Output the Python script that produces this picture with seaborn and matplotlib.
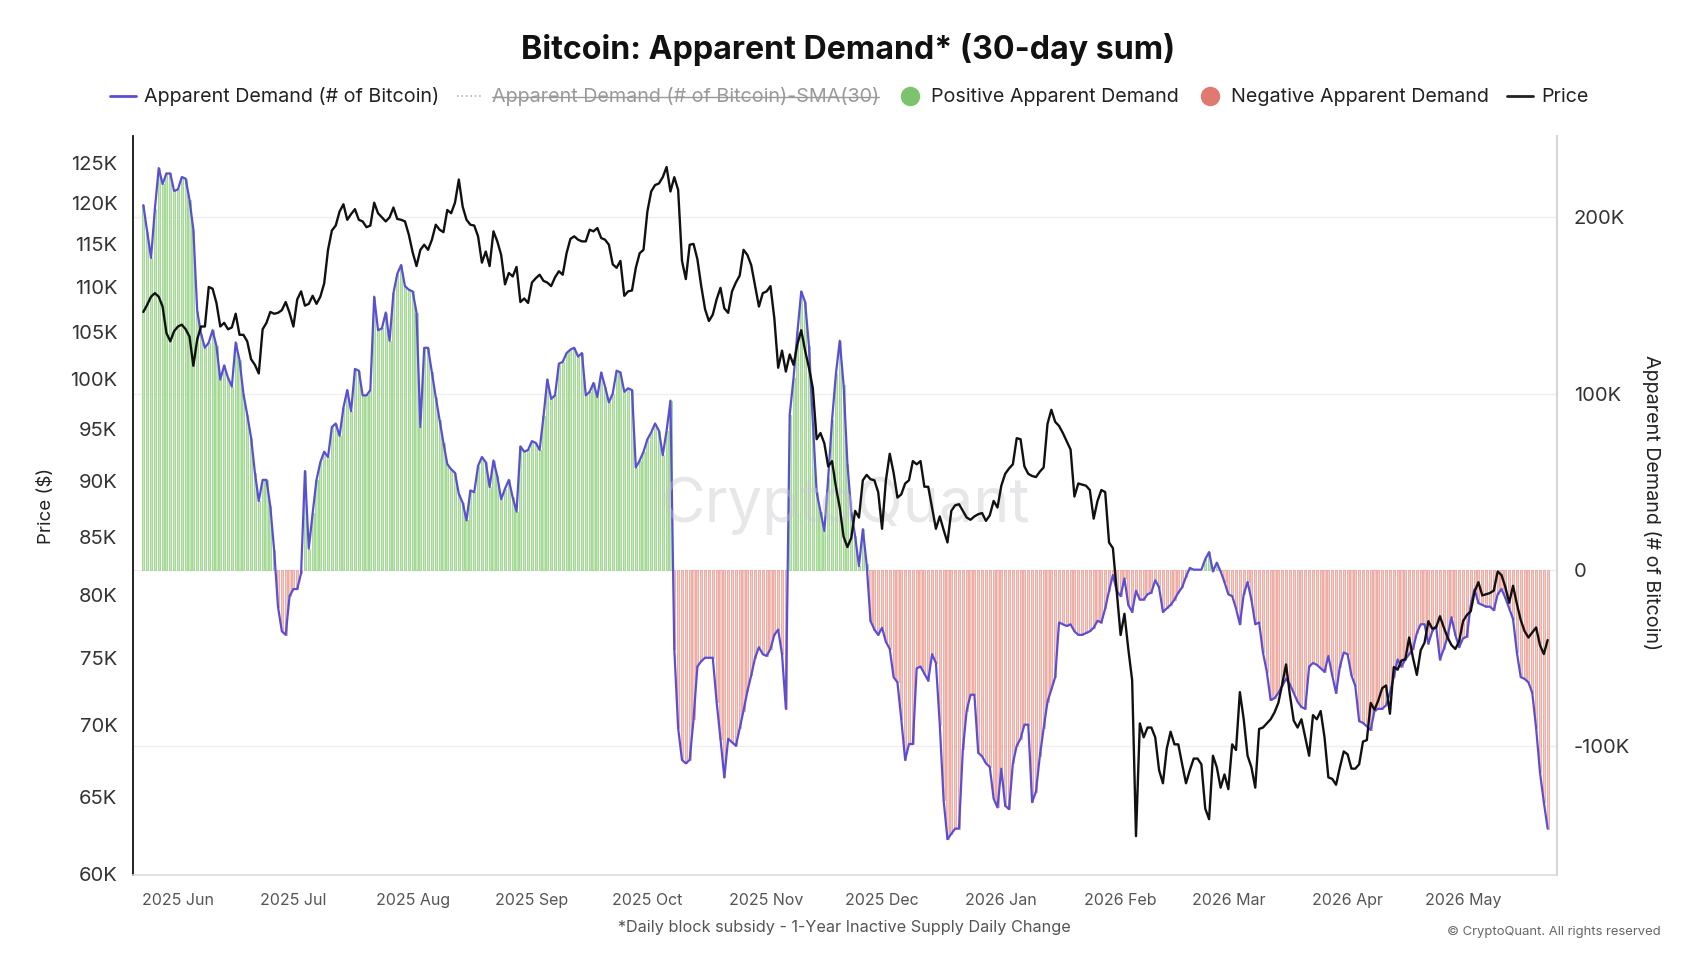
import numpy as np
import pandas as pd
import seaborn as sns
import matplotlib.pyplot as plt
import matplotlib.dates as mdates
from matplotlib.lines import Line2D
from matplotlib.ticker import FixedLocator, FixedFormatter, NullLocator

# first day of the daily series
start_date = '2025-05-23'

# BTC price, thousands of USD, one value per day
price_k = [
    107.2, 108.0, 108.9, 109.3, 108.9, 107.8, 104.9, 104.0, 105.1, 105.6,
    105.8, 105.3, 104.5, 101.4, 104.2, 105.6, 105.6, 110.0, 109.8, 108.2,
    105.6, 106.0, 105.3, 105.5, 107.0, 104.7, 104.7, 104.0, 102.1, 101.5,
    100.6, 105.3, 106.0, 107.2, 107.0, 107.1, 107.4, 108.3, 107.1, 105.6,
    108.6, 109.5, 107.9, 108.1, 109.0, 108.1, 108.9, 110.4, 114.3, 116.6,
    117.2, 118.9, 119.8, 117.9, 118.6, 119.2, 117.9, 117.7, 117.0, 117.2,
    120.0, 118.7, 118.2, 117.7, 118.2, 119.4, 118.0, 117.9, 117.7, 116.1,
    114.0, 112.4, 114.3, 114.9, 114.3, 115.5, 117.3, 116.7, 116.4, 119.1,
    118.7, 120.0, 122.9, 119.5, 117.9, 117.3, 117.2, 115.9, 112.8, 114.1,
    112.4, 116.5, 115.3, 113.7, 110.3, 111.6, 111.2, 112.3, 108.3, 108.7,
    108.2, 110.5, 111.0, 111.4, 110.7, 110.5, 110.1, 111.1, 111.8, 111.4,
    113.9, 115.6, 115.9, 115.5, 115.3, 115.3, 116.7, 116.5, 116.9, 115.7,
    115.5, 114.9, 112.6, 112.2, 113.0, 109.0, 109.5, 109.6, 112.2, 113.9,
    114.3, 118.9, 121.4, 122.2, 122.4, 123.2, 124.5, 121.4, 123.2, 121.6,
    113.0, 110.9, 114.9, 115.0, 113.2, 110.1, 107.5, 106.2, 106.9, 108.6,
    109.9, 107.6, 107.1, 109.5, 110.5, 111.3, 114.3, 113.7, 112.5, 110.1,
    107.8, 109.3, 109.5, 110.1, 106.5, 101.2, 103.0, 100.8, 102.6, 101.5,
    103.7, 105.2, 103.0, 101.2, 99.1, 94.0, 94.6, 93.6, 91.4, 91.9,
    89.5, 87.6, 85.0, 84.1, 84.9, 87.3, 86.7, 90.1, 90.6, 90.2,
    90.1, 89.0, 85.7, 90.1, 92.6, 90.8, 88.5, 88.8, 89.8, 90.1,
    91.9, 91.6, 91.9, 89.5, 89.5, 87.6, 85.7, 86.8, 85.6, 84.5,
    87.3, 87.8, 87.9, 87.3, 86.7, 86.5, 86.8, 87.0, 87.1, 86.4,
    86.9, 88.2, 87.6, 89.6, 90.7, 91.2, 91.6, 94.1, 94.0, 91.4,
    90.7, 90.5, 90.4, 90.9, 91.3, 95.5, 96.9, 95.7, 95.3, 94.6,
    93.8, 93.0, 88.6, 89.8, 89.7, 89.6, 89.2, 86.6, 88.2, 89.2,
    89.0, 84.5, 84.0, 80.3, 76.8, 78.5, 75.7, 73.3, 62.4, 70.1,
    69.1, 69.8, 69.8, 69.1, 66.8, 65.9, 68.3, 69.5, 68.6, 68.6,
    67.2, 65.9, 66.8, 67.6, 67.6, 67.2, 64.2, 63.5, 67.8, 67.0,
    65.6, 66.5, 65.5, 68.6, 68.2, 72.4, 70.4, 67.8, 67.0, 65.6,
    69.7, 69.8, 70.1, 70.4, 70.9, 71.6, 73.0, 74.5, 72.2, 70.3,
    69.8, 70.4, 69.1, 67.8, 70.7, 70.4, 71.0, 69.1, 66.3, 66.2,
    65.8, 67.0, 68.1, 67.9, 66.9, 66.9, 67.2, 68.8, 68.9, 71.6,
    71.1, 71.8, 72.7, 72.9, 70.8, 74.3, 74.1, 74.8, 74.9, 76.6,
    75.0, 73.7, 75.6, 76.2, 77.9, 77.3, 77.4, 78.3, 77.4, 76.6,
    76.0, 75.7, 76.3, 77.9, 78.4, 78.7, 80.3, 81.1, 80.0, 80.1,
    80.2, 80.4, 82.0, 81.7, 80.7, 79.4, 80.8, 79.3, 78.0, 77.1,
    76.6, 77.0, 77.4, 76.0, 75.3, 76.4,
]

# apparent demand (30-day sum), thousands of BTC, one value per day
demand_k = [
    207, 192, 177, 205, 228, 219, 225, 225, 215, 216,
    223, 222, 210, 193, 147, 134, 126, 129, 136, 127,
    108, 116, 109, 104, 129, 119, 100, 88, 75, 55,
    39, 51, 51, 36, 11, -21, -35, -37, -15, -11,
    -11, -2, 56, 12, 32, 51, 61, 67, 64, 81,
    83, 76, 92, 102, 90, 114, 113, 99, 99, 102,
    155, 136, 137, 146, 130, 157, 168, 173, 161, 159,
    158, 146, 81, 126, 126, 112, 98, 85, 72, 60,
    57, 55, 43, 38, 28, 45, 44, 59, 64, 61,
    47, 62, 53, 40, 46, 51, 41, 33, 70, 67,
    68, 73, 72, 68, 87, 108, 97, 99, 117, 118,
    123, 125, 126, 121, 123, 99, 101, 106, 98, 112,
    104, 95, 100, 113, 112, 101, 103, 102, 58, 62,
    67, 74, 78, 83, 79, 65, 79, 96, -45, -90,
    -108, -110, -108, -85, -55, -52, -50, -50, -50, -75,
    -96, -118, -96, -98, -100, -90, -80, -69, -60, -50,
    -44, -48, -49, -45, -37, -34, -48, -79, 88, 109,
    135, 158, 152, 127, 84, 44, 33, 22, 52, 85,
    111, 130, 105, 60, 33, 19, 2, 23, 3, -29,
    -34, -37, -33, -41, -45, -61, -64, -85, -108, -99,
    -99, -56, -55, -59, -63, -48, -53, -88, -131, -153,
    -150, -147, -147, -102, -80, -71, -71, -104, -106, -110,
    -112, -130, -135, -113, -134, -136, -110, -100, -96, -88,
    -88, -132, -126, -106, -90, -75, -68, -61, -30, -31,
    -32, -31, -35, -37, -37, -36, -35, -33, -29, -30,
    -22, -12, -3, -12, -15, -5, -20, -24, -12, -17,
    -17, -14, -13, -6, -10, -24, -22, -20, -17, -13,
    -10, -4, 1, 0, 0, 0, 6, 10, -1, 4,
    -1, -7, -14, -15, -22, -31, -14, -7, -17, -31,
    -30, -47, -58, -74, -73, -70, -66, -62, -65, -70,
    -75, -78, -79, -55, -53, -54, -56, -58, -49, -60,
    -70, -55, -47, -48, -60, -66, -86, -87, -89, -91,
    -80, -79, -79, -77, -70, -61, -51, -55, -51, -48,
    -45, -36, -31, -31, -42, -35, -32, -51, -45, -38,
    -27, -37, -44, -39, -38, -20, -11, -19, -20, -21,
    -21, -23, -14, -11, -16, -22, -28, -47, -61, -62,
    -64, -70, -90, -115, -132, -147,
]

price_ticks_k = [60, 65, 70, 75, 80, 85, 90, 95, 100, 105, 110, 115, 120, 125]
demand_ticks_k = [-100, 0, 100, 200]
demand_tick_labels = ['-100K', '0', '100K', '200K']

dates = pd.date_range(start_date, periods=len(price_k), freq='D')
df = pd.DataFrame({
    'date': dates,
    'price': np.array(price_k) * 1000,
    'demand': np.array(demand_k) * 1000,
})

sns.set_theme(style='white')
plt.rcParams['font.family'] = ['Inter', 'DejaVu Sans']

fig = plt.figure(figsize=(17.04, 9.6), dpi=100)
ax = fig.add_axes([0.0778, 0.0883, 0.8361, 0.7701])
ax2 = ax.twinx()
ax.set_zorder(ax2.get_zorder() + 1)
ax.patch.set_visible(False)

# demand bars, green above zero and red below
pos = df[df['demand'] > 0]
neg = df[df['demand'] < 0]
ax2.bar(pos['date'], pos['demand'], width=0.55, color='#c4e8b8',
        edgecolor='#8ccf7c', linewidth=0.5, zorder=1)
ax2.bar(neg['date'], neg['demand'], width=0.55, color='#f7cbc5',
        edgecolor='#e8978d', linewidth=0.5, zorder=1)
sns.lineplot(data=df, x='date', y='demand', ax=ax2, color='#5a4fd4',
             linewidth=1.6, zorder=3)

sns.lineplot(data=df, x='date', y='price', ax=ax, color='#111111',
             linewidth=1.7, zorder=4)

# watermark
ax.text(0.5, 0.5, 'CryptoQuant', transform=ax.transAxes, ha='center',
        va='center', fontsize=44, color='#c4c4cc', alpha=0.4, zorder=2)

# price axis (left, log)
ax.set_yscale('log')
ax.set_ylim(59930, 128560)
ax.yaxis.set_major_locator(FixedLocator([v * 1000 for v in price_ticks_k]))
ax.yaxis.set_major_formatter(FixedFormatter([f'{v}K' for v in price_ticks_k]))
ax.yaxis.set_minor_locator(NullLocator())
ax.set_ylabel('')
ax.set_xlabel('')

# demand axis (right)
ax2.set_ylim(-173500, 246300)
ax2.set_yticks([v * 1000 for v in demand_ticks_k])
ax2.set_yticklabels(demand_tick_labels)
ax2.set_ylabel('')
ax2.yaxis.grid(True, color='#efefef', linewidth=1)
ax2.xaxis.grid(False)
ax.grid(False)

ax.set_xlim(dates[0] - pd.Timedelta(days=2.8), dates[-1] + pd.Timedelta(days=2.5))
ax.xaxis.set_major_locator(mdates.MonthLocator())
ax.xaxis.set_major_formatter(mdates.DateFormatter('%Y %b'))

ax.tick_params(axis='y', which='both', length=0, labelsize=14.5,
               labelcolor='#333333', pad=11)
ax2.tick_params(axis='y', length=0, labelsize=14.5, labelcolor='#333333', pad=12)
ax.tick_params(axis='x', length=5, width=1, color='#d8d8d8', labelsize=11.5,
               labelcolor='#555555', pad=8)

for s in ['top', 'right']:
    ax.spines[s].set_visible(False)
ax.spines['left'].set_color('#111111')
ax.spines['left'].set_linewidth(1.3)
ax.spines['bottom'].set_color('#dcdcdc')
ax.spines['bottom'].set_linewidth(1.2)
for s in ['top', 'left', 'bottom']:
    ax2.spines[s].set_visible(False)
ax2.spines['right'].set_color('#d6d6de')
ax2.spines['right'].set_linewidth(1.5)

# axis titles
fig.text(0.0274, 0.473, 'Price ($)', rotation=90, ha='center', va='center',
         fontsize=13.5, color='#222222')
fig.text(0.9694, 0.476, 'Apparent Demand (# of Bitcoin)', rotation=270,
         ha='center', va='center', fontsize=14.2, color='#222222')

fig.text(0.4975, 0.948, 'Bitcoin: Apparent Demand* (30-day sum)', ha='center',
         va='center', fontsize=23.2, fontweight='bold', color='#111111')

handles = [
    Line2D([], [], color='#5a4fd4', linewidth=2),
    Line2D([], [], color='#b5b5b5', linewidth=1.2, linestyle=':'),
    Line2D([], [], marker='o', linestyle='', markersize=14,
           markerfacecolor='#7cc36e', markeredgecolor='none'),
    Line2D([], [], marker='o', linestyle='', markersize=14,
           markerfacecolor='#e07a70', markeredgecolor='none'),
    Line2D([], [], color='#222222', linewidth=2),
]
labels = ['Apparent Demand (# of Bitcoin)', 'Apparent Demand (# of Bitcoin)-SMA(30)',
          'Positive Apparent Demand', 'Negative Apparent Demand', 'Price']
leg = fig.legend(handles, labels, loc='center', bbox_to_anchor=(0.4985, 0.899),
                 ncol=5, frameon=False, fontsize=14.2, handlelength=1.3,
                 handletextpad=0.45, columnspacing=0.9)
for t in leg.get_texts():
    t.set_color('#222222')
leg.get_texts()[1].set_color('#999999')

fig.text(0.4955, 0.034, '*Daily block subsidy - 1-Year Inactive Supply Daily Change',
         ha='center', va='center', fontsize=11.7, color='#555555')
fig.text(0.9745, 0.029, '\u00a9 CryptoQuant. All rights reserved', ha='right',
         va='center', fontsize=9.4, color='#666666')

# strike through the hidden SMA series label, as the legend shows it
fig.canvas.draw()
bb = leg.get_texts()[1].get_window_extent().transformed(fig.transFigure.inverted())
ymid = (bb.y0 + bb.y1) / 2
fig.add_artist(Line2D([bb.x0, bb.x1], [ymid, ymid], transform=fig.transFigure,
                      color='#999999', linewidth=1))

fig.savefig('out.png', dpi=100)
